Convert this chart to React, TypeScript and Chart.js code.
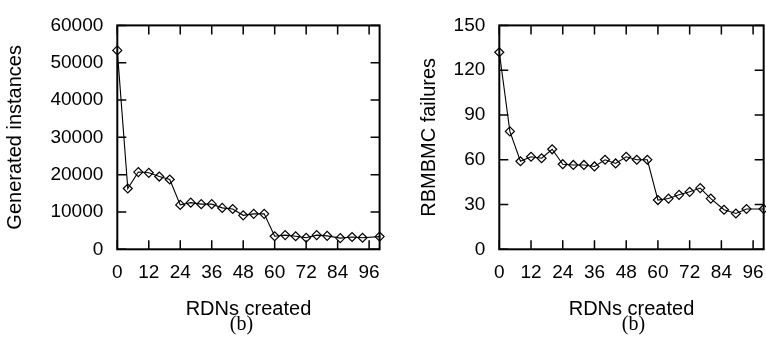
import React, { useEffect, useRef } from "react";
import { Chart, registerables } from "chart.js";

Chart.register(...registerables);

const rdnsCreated = [0, 4, 8, 12, 16, 20, 24, 28, 32, 36, 40, 44, 48, 52, 56, 60, 64, 68, 72, 76, 80, 85, 89.5, 93.5, 100];
const generatedInstances = [53300, 16300, 20700, 20500, 19500, 18700, 11900, 12500, 12100, 12100, 11100, 10800, 9100, 9500, 9500, 3500, 3800, 3500, 3100, 3800, 3600, 3000, 3300, 3100, 3400];
const rbmbmcFailures = [132, 79, 59, 62, 61, 67, 57, 56.5, 56.5, 55.5, 60, 57.5, 62, 60, 60, 33, 34, 36.5, 38.5, 41, 34, 26.5, 24, 27, 27];

const xTickStep = 12;
const leftYMax = 60000;
const leftYStep = 10000;
const rightYMax = 150;
const rightYStep = 30;

const FONT = "'Liberation Sans', Arial, Helvetica, sans-serif";

const boxPlugin = {
  id: "gnuplotBox",
  afterDatasetsDraw(chart: any) {
    const { ctx, chartArea: a, scales } = chart;
    const x = scales.x;
    const y = scales.y;
    const L = 9;
    ctx.save();
    ctx.strokeStyle = "#000";
    ctx.lineWidth = 1.5;
    ctx.beginPath();
    x.ticks.forEach((t: any) => {
      const px = x.getPixelForValue(t.value);
      ctx.moveTo(px, a.bottom);
      ctx.lineTo(px, a.bottom - L);
      ctx.moveTo(px, a.top);
      ctx.lineTo(px, a.top + L);
    });
    y.ticks.forEach((t: any) => {
      const py = y.getPixelForValue(t.value);
      ctx.moveTo(a.left, py);
      ctx.lineTo(a.left + L, py);
      ctx.moveTo(a.right, py);
      ctx.lineTo(a.right - L, py);
    });
    ctx.stroke();
    ctx.lineWidth = 2;
    ctx.strokeRect(a.left, a.top, a.right - a.left, a.bottom - a.top);
    ctx.restore();
  },
};

function makeConfig(values: number[], yMax: number, yStep: number, yTitle: string, yWidth: number, yTitlePad: number, padRight: number) {
  return {
    type: "line" as const,
    data: {
      datasets: [
        {
          data: rdnsCreated.map((x, i) => ({ x, y: values[i] })),
          borderColor: "#000",
          borderWidth: 1.1,
          pointStyle: "rectRot",
          pointRadius: 4.5,
          pointBorderWidth: 1.2,
          pointBorderColor: "#000",
          pointBackgroundColor: "rgba(0,0,0,0)",
          clip: false as any,
          tension: 0,
        },
      ],
    },
    options: {
      responsive: false,
      animation: false as const,
      devicePixelRatio: 1,
      layout: { padding: { top: 15, right: padRight, bottom: 15.7, left: 0 } },
      plugins: { legend: { display: false }, tooltip: { enabled: false } },
      scales: {
        x: {
          type: "linear" as const,
          min: 0,
          max: 100,
          grid: { display: false, drawTicks: false },
          border: { display: false },
          ticks: {
            stepSize: xTickStep,
            includeBounds: false,
            color: "#000",
            font: { family: FONT, size: 19 },
            padding: 12,
            maxRotation: 0,
            autoSkip: false,
            callback: (v: any) => String(v),
          },
          afterBuildTicks: (s: any) => {
            s.ticks = s.ticks.filter((t: any) => t.value % xTickStep === 0);
          },
          title: {
            display: true,
            text: "RDNs created",
            color: "#000",
            font: { family: FONT, size: 20 },
            padding: { top: 0, bottom: 0 },
          },
          afterFit: (s: any) => {
            s.height = 72;
          },
        },
        y: {
          type: "linear" as const,
          min: 0,
          max: yMax,
          grid: { display: false, drawTicks: false },
          border: { display: false },
          ticks: {
            stepSize: yStep,
            color: "#000",
            font: { family: FONT, size: 19 },
            padding: 14,
            callback: (v: any) => String(v),
          },
          title: {
            display: true,
            text: yTitle,
            color: "#000",
            font: { family: FONT, size: 20 },
            padding: { top: yTitlePad, bottom: 0 },
          },
          afterFit: (s: any) => {
            s.width = yWidth;
          },
        },
      },
    },
    plugins: [boxPlugin],
  };
}

function ChartCanvas(props: { width: number; height: number; left: number; config: any }) {
  const ref = useRef<HTMLCanvasElement | null>(null);
  useEffect(() => {
    if (!ref.current) return;
    const chart = new Chart(ref.current, props.config);
    return () => chart.destroy();
  }, []);
  return (
    <canvas
      ref={ref}
      width={props.width}
      height={props.height}
      style={{ position: "absolute", left: props.left, top: 0, width: props.width, height: props.height }}
    />
  );
}

const captionStyle = (cx: number): React.CSSProperties => ({
  position: "absolute",
  left: cx - 30,
  top: 312,
  width: 60,
  textAlign: "center",
  fontFamily: "'Liberation Serif', 'DejaVu Serif', serif",
  fontSize: 20,
  lineHeight: "22px",
  color: "#000",
});

export default function App() {
  const leftCfg = makeConfig(generatedInstances, leftYMax, leftYStep, "Generated instances", 117.3, 3, 8);
  const rightCfg = makeConfig(rbmbmcFailures, rightYMax, rightYStep, "RBMBMC failures", 107.3, 25, 8.3);
  return (
    <div style={{ position: "absolute", left: 0, top: 0, width: 766, height: 337, overflow: "hidden", background: "#fff" }}>
      <ChartCanvas width={392} height={337} left={0} config={leftCfg} />
      <ChartCanvas width={384} height={337} left={392} config={rightCfg} />
      <div style={captionStyle(241.5)}>(b)</div>
      <div style={captionStyle(633.5)}>(b)</div>
    </div>
  );
}
